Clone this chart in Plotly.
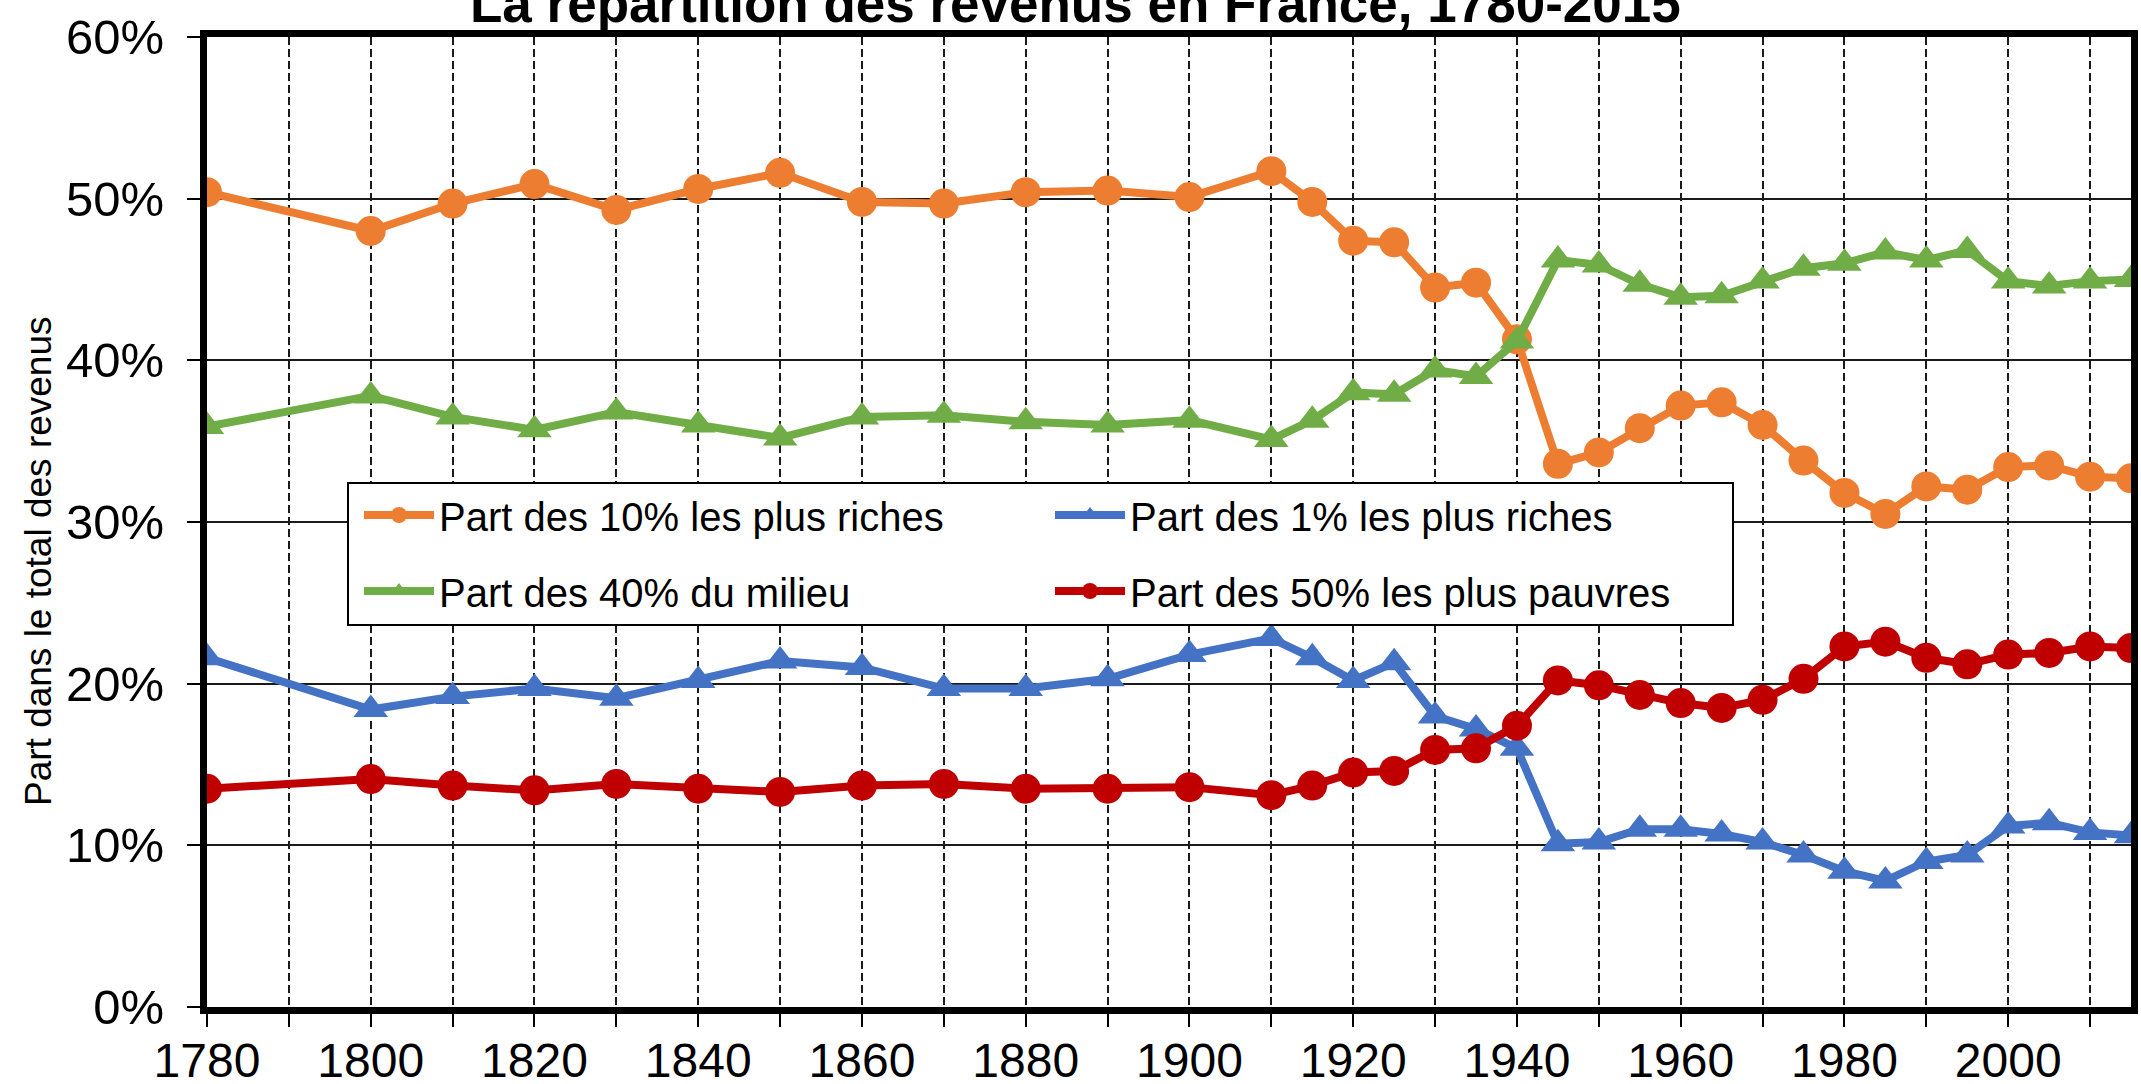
import plotly.graph_objects as go

annees = [1780, 1800, 1810, 1820, 1830, 1840, 1850, 1860, 1870, 1880, 1890, 1900,
          1910, 1915, 1920, 1925, 1930, 1935, 1940, 1945, 1950, 1955, 1960, 1965,
          1970, 1975, 1980, 1985, 1990, 1995, 2000, 2005, 2010, 2015]

part_10_riches = [50.4, 48.0, 49.7, 50.9, 49.3, 50.6, 51.6, 49.8, 49.7, 50.4, 50.5, 50.1,
                  51.7, 49.8, 47.4, 47.3, 44.5, 44.8, 41.3, 33.6, 34.3, 35.8, 37.2, 37.4,
                  36.0, 33.8, 31.8, 30.5, 32.2, 32.0, 33.4, 33.5, 32.8, 32.7]

part_1_riches = [21.6, 18.4, 19.2, 19.7, 19.1, 20.2, 21.4, 21.0, 19.7, 19.7, 20.3, 21.8,
                 22.8, 21.6, 20.2, 21.3, 18.0, 17.2, 16.0, 10.1, 10.2, 11.0, 11.0, 10.7,
                 10.2, 9.4, 8.4, 7.8, 9.0, 9.4, 11.2, 11.4, 10.8, 10.6]

part_40_milieu = [35.9, 37.8, 36.5, 35.7, 36.8, 36.0, 35.2, 36.5, 36.6, 36.2, 36.0, 36.3,
                  35.1, 36.3, 38.0, 37.9, 39.4, 39.0, 41.2, 46.2, 45.9, 44.7, 43.9, 44.0,
                  44.9, 45.7, 46.0, 46.7, 46.2, 46.8, 44.9, 44.6, 44.9, 45.0]

part_50_pauvres = [13.5, 14.1, 13.7, 13.4, 13.8, 13.5, 13.3, 13.7, 13.8, 13.5, 13.5, 13.6,
                   13.1, 13.7, 14.5, 14.6, 15.9, 16.0, 17.4, 20.2, 19.9, 19.3, 18.8, 18.5,
                   19.0, 20.3, 22.3, 22.6, 21.6, 21.2, 21.8, 21.9, 22.3, 22.2]

x_ticks = [1780, 1790, 1800, 1810, 1820, 1830, 1840, 1850, 1860, 1870, 1880, 1890,
           1900, 1910, 1920, 1930, 1940, 1950, 1960, 1970, 1980, 1990, 2000, 2010]
x_labels = ["1780", "", "1800", "", "1820", "", "1840", "", "1860", "", "1880", "",
            "1900", "", "1920", "", "1940", "", "1960", "", "1980", "", "2000", ""]

titre = "La répartition des revenus en France, 1780-2015"
titre_y = "Part dans le total des revenus"

FONT = "Liberation Sans, Arial, sans-serif"

# px -> paper coords (plot area: x 207..2131, y 37..1007)
def px_x(p):
    return (p - 207) / 1924.0

def px_y(p):
    return (1007 - p) / 970.0

series = [
    ("Part des 10% les plus riches", part_10_riches, "#ED7D31", "circle", "legend"),
    ("Part des 1% les plus riches", part_1_riches, "#4472C4", "triangle-up", "legend"),
    ("Part des 40% du milieu", part_40_milieu, "#70AD47", "triangle-up", "legend2"),
    ("Part des 50% les plus pauvres", part_50_pauvres, "#C00000", "circle", "legend2"),
]

fig = go.Figure()
for nom, vals, coul, symb, leg in series:
    fig.add_trace(go.Scatter(
        x=annees, y=vals, name=nom, mode="lines+markers",
        line=dict(color=coul, width=8),
        marker=dict(color=coul, symbol=symb, size=30, line=dict(width=0)),
        legend=leg,
    ))

# legend frame
fig.add_shape(type="rect", xref="paper", yref="paper",
              x0=px_x(348), x1=px_x(1733), y0=px_y(625), y1=px_y(483),
              line=dict(color="black", width=2), fillcolor="white", layer="above")

leg_common = dict(orientation="h", xanchor="left", yanchor="middle",
                  font=dict(size=40, family=FONT, color="black"),
                  bgcolor="rgba(0,0,0,0)", borderwidth=0,
                  itemwidth=70, entrywidth=606, traceorder="normal")

fig.update_layout(
    width=2141, height=1084,
    margin=dict(l=207, r=10, t=37, b=77),
    paper_bgcolor="white", plot_bgcolor="white",
    font=dict(family=FONT, color="black"),
    legend=dict(x=px_x(359), y=px_y(515), **leg_common),
    legend2=dict(x=px_x(359), y=px_y(591), **leg_common),
    annotations=[
        dict(text="<b>" + titre + "</b>", xref="paper", yref="paper",
             x=px_x(1075), y=px_y(35), xanchor="center", yanchor="bottom",
             showarrow=False, font=dict(size=53, family=FONT, color="black")),
        dict(text=titre_y, xref="paper", yref="paper", textangle=-90,
             x=px_x(38), y=px_y(561), xanchor="center", yanchor="middle",
             showarrow=False, font=dict(size=37, family=FONT, color="black")),
    ],
)

fig.update_xaxes(
    range=[1780, 2015], tickmode="array", tickvals=x_ticks, ticktext=x_labels,
    showline=True, linewidth=7, linecolor="black", mirror=True,
    ticks="outside", ticklen=13, tickwidth=1.5, tickcolor="black",
    ticklabelstandoff=-8, automargin=False,
    showgrid=True, gridcolor="#1a1a1a", gridwidth=1.5, griddash="8px,4px",
    tickfont=dict(size=48, family=FONT, color="black"),
    zeroline=False,
)
fig.update_yaxes(
    range=[0, 60], dtick=10, ticksuffix="%",
    showline=True, linewidth=7, linecolor="black", mirror=True,
    ticks="outside", ticklen=13, tickwidth=1.5, tickcolor="black",
    ticklabelstandoff=13, automargin=False,
    showgrid=True, gridcolor="#1a1a1a", gridwidth=1.5,
    tickfont=dict(size=49, family=FONT, color="black"),
    zeroline=False,
)

fig.write_html("out.html", config={"displayModeBar": False},
               post_script="document.body.style.margin='0';")
